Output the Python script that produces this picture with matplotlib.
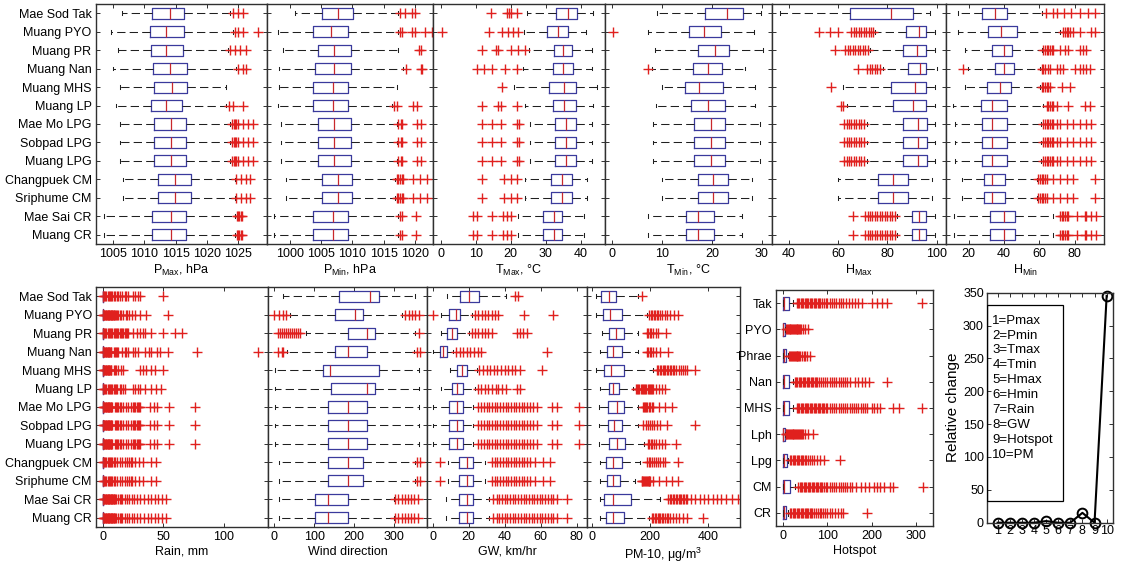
import matplotlib
matplotlib.use("Agg")
import matplotlib.pyplot as plt
from matplotlib.patches import Rectangle
import numpy as np

plt.rcParams['font.family'] = ['Liberation Sans', 'DejaVu Sans']
plt.rcParams['mathtext.fontset'] = 'custom'
plt.rcParams['mathtext.rm'] = 'Liberation Sans'
plt.rcParams['mathtext.it'] = 'Liberation Sans:italic'
plt.rcParams['mathtext.bf'] = 'Liberation Sans:bold'

# ---------------- data ----------------
stations = ['Mae Sod Tak', 'Muang PYO', 'Muang PR', 'Muang Nan', 'Muang MHS', 'Muang LP',
            'Mae Mo LPG', 'Sobpad LPG', 'Muang LPG', 'Changpuek CM', 'Sriphume CM',
            'Mae Sai CR', 'Muang CR']
provinces = ['Tak', 'PYO', 'Phrae', 'Nan', 'MHS', 'Lph', 'Lpg', 'CM', 'CR']

# P_Max (hPa): whisker low, q1, median, q3, whisker high, outliers
pmax_lo = [1006.4, 1004.7, 1005.8, 1005.0, 1006.1, 1005.4, 1006.1, 1006.1, 1006.1, 1006.5, 1006.5, 1003.6, 1003.6]
pmax_q1 = [1011.2, 1010.9, 1011.0, 1011.4, 1011.5, 1011.0, 1011.5, 1011.5, 1011.5, 1012.1, 1012.1, 1011.2, 1011.2]
pmax_med = [1014.1, 1013.4, 1013.5, 1014.1, 1014.4, 1013.5, 1014.2, 1014.2, 1014.2, 1014.9, 1014.9, 1014.2, 1014.2]
pmax_q3 = [1016.4, 1016.4, 1016.2, 1016.8, 1016.8, 1016.0, 1016.6, 1016.6, 1016.6, 1017.4, 1017.4, 1016.6, 1016.6]
pmax_hi = [1023.7, 1024.2, 1023.4, 1024.7, 1023.1, 1023.1, 1023.7, 1023.7, 1023.7, 1024.5, 1024.5, 1024.5, 1024.5]
pmax_out = [[1024.2, 1025.0, 1025.8], [1024.5, 1025.0, 1025.8, 1028.2], [1023.7, 1024.5, 1025.3, 1026.3],
            [1025.0, 1025.8, 1026.3], [], [1023.6, 1024.2, 1025.8],
            [1024.0, 1024.3, 1024.5, 1024.7, 1025.0, 1025.8, 1026.6, 1027.4],
            [1024.0, 1024.3, 1024.5, 1024.7, 1025.0, 1025.8, 1026.6, 1027.4],
            [1024.0, 1024.3, 1024.5, 1024.7, 1025.0, 1025.8, 1026.6, 1027.4],
            [1024.7, 1025.5, 1026.3, 1026.9], [1024.7, 1025.5, 1026.3, 1026.9],
            [1024.8, 1025.0, 1025.2, 1025.4, 1025.6], [1024.8, 1025.0, 1025.2, 1025.4, 1025.6]]

# P_Min (hPa)
pmin_lo = [1000.8, 998.1, 998.8, 998.3, 998.3, 998.0, 998.5, 998.5, 998.5, 999.4, 999.4, 997.5, 997.5]
pmin_q1 = [1005.1, 1003.6, 1004.4, 1004.0, 1003.7, 1003.6, 1004.5, 1004.5, 1004.5, 1005.1, 1005.1, 1003.6, 1003.6]
pmin_med = [1007.6, 1006.5, 1007.1, 1007.0, 1006.8, 1006.8, 1007.1, 1007.1, 1007.1, 1007.6, 1007.6, 1006.8, 1006.8]
pmin_q3 = [1010.1, 1009.3, 1009.8, 1009.8, 1009.2, 1009.2, 1009.8, 1009.8, 1009.8, 1010.0, 1010.0, 1009.3, 1009.3]
pmin_hi = [1017.3, 1017.3, 1017.3, 1018.1, 1017.2, 1016.3, 1017.1, 1017.1, 1017.1, 1016.8, 1016.8, 1017.3, 1017.3]
pmin_out = [[1017.6, 1018.4, 1019.5, 1020.0], [1017.6, 1017.9, 1019.5, 1020.0, 1021.6, 1022.8], [1020.7, 1020.9],
            [1018.6, 1021.0, 1021.2], [], [1016.7, 1017.1, 1019.7, 1020.3],
            [1017.3, 1017.8, 1018.0, 1020.3, 1020.9], [1017.3, 1017.8, 1018.0, 1020.3, 1020.9],
            [1017.3, 1017.8, 1018.0, 1020.3, 1020.9],
            [1017.1, 1017.3, 1017.6, 1017.9, 1018.1, 1019.7, 1020.8, 1021.9],
            [1017.1, 1017.3, 1017.6, 1017.9, 1018.1, 1019.7, 1020.8, 1021.9],
            [1017.6, 1017.9, 1020.2], [1017.6, 1017.9, 1020.2]]

# T_Max (degC)
tmax_lo = [24.5, 23.9, 25.2, 23.6, 21.0, 24.2, 25.5, 25.5, 25.5, 24.2, 24.2, 22.0, 22.0]
tmax_q1 = [32.9, 30.5, 32.5, 32.2, 30.9, 32.2, 32.6, 32.6, 32.6, 31.6, 31.6, 29.3, 29.3]
tmax_med = [36.3, 33.5, 35.0, 35.0, 35.3, 35.3, 35.8, 35.8, 35.8, 34.6, 34.6, 32.4, 32.4]
tmax_q3 = [38.9, 36.4, 37.4, 37.9, 38.6, 38.6, 38.6, 38.6, 38.6, 37.4, 37.4, 34.7, 34.7]
tmax_hi = [43.6, 41.5, 43.3, 43.3, 44.6, 43.6, 43.4, 43.4, 43.4, 41.7, 41.7, 41.0, 41.0]
tmax_out = [[14.2, 18.8, 19.5, 20.2, 21.7], [0.2, 13.8, 17.4, 19.3, 20.5, 22.1], [11.8, 15.9, 16.4, 20.0, 22.0, 24.1],
            [10.2, 12.4, 14.7, 18.3, 21.7], [17.4], [11.8, 16.4, 17.2, 21.9],
            [11.8, 14.7, 17.1, 21.9, 22.4], [11.8, 14.7, 17.1, 21.9, 22.4], [11.8, 14.7, 17.1, 21.9, 22.4],
            [11.8, 18.0, 20.0, 21.9], [11.8, 18.0, 20.0, 21.9],
            [9.1, 10.2, 14.7, 17.9, 19.0, 20.0], [9.1, 10.2, 14.7, 17.9, 19.0, 20.0]]

# T_Min (degC)
tmin_lo = [9.1, 7.3, 8.7, 8.0, 10.1, 8.9, 8.3, 8.3, 8.3, 10.1, 10.1, 7.3, 7.3]
tmin_q1 = [18.7, 15.5, 17.3, 16.2, 14.7, 15.8, 16.5, 16.5, 16.5, 17.2, 17.2, 14.8, 14.8]
tmin_med = [23.0, 18.5, 20.7, 19.2, 17.5, 19.2, 19.9, 19.9, 19.9, 20.2, 20.2, 17.2, 17.2]
tmin_q3 = [26.2, 21.8, 23.5, 22.0, 22.2, 22.7, 22.7, 22.7, 22.7, 23.3, 23.3, 20.5, 20.5]
tmin_hi = [29.9, 28.5, 30.3, 26.7, 28.7, 28.7, 29.7, 29.7, 29.7, 28.1, 28.1, 26.0, 26.0]
tmin_out = [[], [0.2], [], [7.3], [], [], [], [], [], [], [], [], []]

# H_Max (%)
hmax_lo = [36.4, 75.0, 73.0, 78.4, 62.2, 63.6, 71.7, 71.7, 71.7, 60.2, 60.2, 83.8, 83.8]
hmax_q1 = [64.9, 87.5, 86.5, 88.5, 81.5, 82.2, 86.5, 86.5, 86.5, 76.4, 76.4, 90.2, 90.2]
hmax_med = [81.5, 93.0, 92.2, 93.3, 91.2, 90.3, 92.3, 92.3, 92.3, 82.2, 82.2, 92.9, 92.9]
hmax_q3 = [90.3, 95.5, 95.5, 95.5, 95.5, 95.5, 96.2, 96.2, 96.2, 88.5, 88.5, 95.5, 95.5]
hmax_hi = [97.3, 99.3, 99.3, 100.0, 99.3, 99.3, 99.3, 99.3, 99.3, 98.0, 98.0, 99.3, 99.3]
hmax_out = [[], [52.4, 56.9, 60.2, 65.2, 66.5, 67.5, 68.5, 69.5, 70.5, 71.5, 72.5, 73.5, 74.4],
            [58.9, 62.9, 64.0, 65.0, 66.0, 67.0, 68.0, 69.0, 70.0, 71.0, 72.0],
            [68.3, 71.7, 73.0, 74.0, 75.0, 76.0, 77.0], [57.3], [61.3, 62.2],
            [62.5, 63.5, 64.5, 65.5, 66.5, 67.5, 68.5, 69.5, 70.6],
            [62.5, 63.5, 64.5, 65.5, 66.5, 67.5, 68.5, 69.5, 70.6],
            [62.5, 63.5, 64.5, 65.5, 66.5, 67.5, 68.5, 69.5, 70.6],
            [], [],
            [66.0, 71.0, 72.0, 73.0, 74.0, 75.0, 76.0, 77.0, 78.0, 79.0, 80.0, 81.0, 82.0, 83.0],
            [66.0, 71.0, 72.0, 73.0, 74.0, 75.0, 76.0, 77.0, 78.0, 79.0, 80.0, 81.0, 82.0, 83.0]]

# H_Min (%)
hmin_lo = [13.7, 14.0, 17.8, 19.3, 17.8, 10.9, 12.1, 12.1, 12.1, 15.9, 15.9, 11.8, 11.8]
hmin_q1 = [27.3, 30.8, 33.3, 34.6, 30.1, 26.7, 27.7, 27.7, 27.7, 28.6, 28.6, 32.0, 32.0]
hmin_med = [34.8, 38.5, 39.8, 39.8, 37.4, 33.3, 33.3, 33.3, 33.3, 33.3, 33.3, 39.8, 39.8]
hmin_q3 = [41.7, 47.3, 44.5, 45.8, 43.6, 41.7, 41.7, 41.7, 41.7, 40.4, 40.4, 46.4, 46.4]
hmin_hi = [61.3, 71.6, 61.3, 60.4, 60.4, 62.2, 60.9, 60.9, 60.9, 58.5, 58.5, 67.5, 67.5]
hmin_out = [[63.7, 67.8, 69.7, 73.8, 78.1, 82.8, 87.5, 91.2],
            [73.4, 74.4, 75.3, 76.3, 77.2, 79.1, 82.8, 89.4, 91.2],
            [62.2, 63.2, 64.1, 65.0, 66.0, 66.9, 67.8, 71.6, 74.4, 76.3, 82.8, 84.7, 86.5],
            [16.5, 61.3, 62.2, 63.2, 65.0, 66.0, 69.7, 71.6, 73.4, 80.0, 82.8, 84.7, 86.5, 88.4],
            [61.3, 62.2, 63.2, 64.1, 65.0, 66.0, 72.5, 77.2],
            [64.1, 65.0, 66.0, 66.9, 67.8, 69.7, 76.3, 85.6, 88.4],
            [62.2, 63.2, 64.1, 65.0, 66.0, 66.9, 67.8, 69.7, 71.6, 75.3, 79.1, 82.8, 86.5, 89.4],
            [62.2, 63.2, 64.1, 65.0, 66.0, 66.9, 67.8, 69.7, 71.6, 75.3, 79.1, 82.8, 86.5, 89.4],
            [62.2, 63.2, 64.1, 65.0, 66.0, 66.9, 67.8, 69.7, 71.6, 75.3, 79.1, 82.8, 86.5, 89.4],
            [59.4, 60.4, 61.3, 62.2, 63.2, 64.1, 67.8, 71.6, 75.3, 79.1, 91.2],
            [59.4, 60.4, 61.3, 62.2, 63.2, 64.1, 67.8, 71.6, 75.3, 79.1, 91.2],
            [71.6, 72.5, 73.4, 74.4, 75.3, 76.3, 81.0, 85.6, 86.5, 89.4, 92.2],
            [71.6, 72.5, 73.4, 74.4, 75.3, 76.3, 81.0, 85.6, 86.5, 89.4, 92.2]]

# Rain (mm): boxes collapse at zero, everything else is an outlier
rain_lo = [0] * 13
rain_q1 = [0] * 13
rain_med = [0] * 13
rain_q3 = [0] * 13
rain_hi = [0] * 13
rain_out = [
    [0.5, 1, 2, 3, 4, 5, 6, 7, 8, 9, 10, 12, 13, 14, 16, 18, 19, 21, 25, 27, 29, 31, 50],
    [0.5, 1, 1.5, 2, 2.5, 3, 3.5, 4, 4.5, 5, 5.5, 6, 6.5, 7, 7.5, 8, 8.5, 9, 9.5, 10, 11, 12, 13, 14, 15, 17,
     19, 20, 22, 24, 27, 31, 36, 54],
    [0.5, 1, 2, 3, 4, 5, 6, 7, 8, 9, 10, 11, 12, 13, 14, 15, 16, 17, 18, 19, 20, 21, 25, 28, 31, 33, 35, 40,
     50, 60, 65],
    [0.5, 1, 1.5, 2, 2.5, 3, 3.5, 4, 4.5, 5, 5.5, 6, 6.5, 7, 9, 10, 11, 12, 13, 16, 18, 19, 21, 25, 27, 29,
     35, 38, 40, 45, 47, 54, 77.5, 128],
    [0.5, 1, 1.5, 2, 2.5, 3, 3.5, 4, 4.5, 5, 5.5, 6, 6.5, 7, 9, 10, 11, 13, 15, 17, 31, 33, 36, 40, 43, 50],
    [0.5, 1, 2, 3, 4, 5, 6, 7, 8, 9, 10, 11, 12, 14, 15, 17, 18, 25, 27, 29, 31, 35, 40, 44, 48],
    [0.5, 1, 1.5, 2, 2.5, 3, 3.5, 4, 4.5, 5, 5.5, 6, 6.5, 7, 7.5, 10, 11, 12, 13, 14, 15, 17, 19, 21, 23, 25,
     26, 27, 28, 29, 30, 31, 39, 42, 45, 55, 76],
    [0.5, 1, 1.5, 2, 2.5, 3, 3.5, 4, 4.5, 5, 5.5, 6, 6.5, 7, 7.5, 10, 11, 12, 13, 14, 15, 17, 19, 21, 23, 25,
     26, 27, 28, 29, 30, 31, 39, 42, 45, 55, 76],
    [0.5, 1, 1.5, 2, 2.5, 3, 3.5, 4, 4.5, 5, 5.5, 6, 6.5, 7, 7.5, 10, 11, 12, 13, 14, 15, 17, 19, 21, 23, 25,
     26, 27, 28, 29, 30, 31, 39, 42, 45, 55, 76],
    [0.5, 1, 2, 3, 4, 5, 6, 7, 8, 9, 10, 12, 14, 16, 18, 20, 22, 23, 24, 27, 30, 33, 40, 44],
    [0.5, 1, 2, 3, 4, 5, 6, 7, 8, 9, 10, 12, 14, 16, 18, 20, 22, 23, 24, 27, 30, 33, 40, 44],
    [0.5, 1, 1.5, 2, 2.5, 3, 3.5, 4, 4.5, 5, 5.5, 6, 6.5, 7, 7.5, 8, 8.5, 9, 9.5, 10, 11, 13, 14, 15, 16, 18,
     20, 22, 24, 26, 28, 31, 34, 37, 40, 43, 46, 49, 52],
    [0.5, 1, 1.5, 2, 2.5, 3, 3.5, 4, 4.5, 5, 5.5, 6, 6.5, 7, 7.5, 8, 8.5, 9, 9.5, 10, 11, 13, 14, 15, 16, 18,
     20, 22, 24, 26, 28, 31, 34, 37, 40, 43, 46, 49, 52]]

# Wind direction (deg)
wind_lo = [21.7, 40.0, 80.0, 32.0, 2.5, 2.5, 2.5, 2.5, 2.5, 13.0, 13.0, 13.0, 13.0]
wind_q1 = [161, 152.5, 184, 152.5, 123, 142.5, 134, 134, 134, 134, 134, 101, 101]
wind_med = [240, 202.5, 232, 184, 140, 232, 184, 184, 184, 184, 184, 134, 134]
wind_q3 = [263, 221.7, 251, 232, 263, 252.5, 232, 232, 232, 221.7, 221.7, 184, 184]
wind_hi = [352.5, 319, 352.5, 348, 361, 361, 361, 361, 361, 351, 351, 298, 298]
wind_out = [[], [1, 13, 22, 30, 327.5, 336, 344, 352.5, 361],
            [11, 16, 21, 26, 31, 36, 41, 46, 50, 55, 60, 65, 361],
            [11, 19, 23, 357, 363], [], [], [], [], [],
            [357, 363], [357, 363],
            [302, 310, 318, 326, 334, 342, 350, 358], [302, 310, 318, 326, 334, 342, 350, 358]]

# GW (km/hr)
gw_lo = [7.8, 4.4, 4.4, 0.4, 9.6, 4.4, 0.0, 0.0, 0.0, 8.7, 8.7, 7.4, 7.4]
gw_q1 = [15.2, 9.3, 7.8, 4.1, 13.7, 10.9, 9.3, 9.3, 9.3, 14.8, 14.8, 14.8, 14.8]
gw_med = [20.4, 13.0, 10.6, 5.6, 16.1, 13.3, 13.3, 13.3, 13.3, 18.9, 18.9, 18.9, 18.9]
gw_q3 = [25.9, 15.2, 13.3, 7.8, 18.9, 16.7, 16.7, 16.7, 16.7, 22.2, 22.2, 22.2, 22.2]
gw_hi = [40.7, 21.7, 20.4, 11.5, 24.4, 23.5, 22.6, 22.6, 22.6, 29.0, 29.0, 31.5, 31.5]
gw_out = [[45.7, 47.6],
          [0.4, 23.5, 25.4, 27.2, 29.1, 31.0, 32.8, 34.6, 36.5, 51.0, 67.0],
          [21.7, 23.5, 25.4, 27.2, 29.1, 31.0, 32.8, 46.7, 48.5, 50.4, 52.2],
          [13, 15, 17, 19, 21, 23, 25, 27, 63.3],
          [26, 28, 30, 32, 34, 36, 38, 40, 42, 44, 46, 48.5, 60.6],
          [25, 27, 29, 31, 33, 35, 36.5, 38.5, 40.7, 46.7, 48.5],
          [25.4, 27, 28.5, 30, 31.5, 33, 34.5, 36, 37.5, 39, 40.5, 42, 43.5, 45, 46.5, 48, 49.5, 51, 52.5, 54,
           55.5, 57.8, 66, 68.9, 81.5],
          [25.4, 27, 28.5, 30, 31.5, 33, 34.5, 36, 37.5, 39, 40.5, 42, 43.5, 45, 46.5, 48, 49.5, 51, 52.5, 54,
           55.5, 57.8, 66, 68.9, 81.5],
          [25.4, 27, 28.5, 30, 31.5, 33, 34.5, 36, 37.5, 39, 40.5, 42, 43.5, 45, 46.5, 48, 49.5, 51, 52.5, 54,
           55.5, 57.8, 66, 68.9, 81.5],
          [4.1, 32.8, 34.5, 36, 37.5, 39, 40.5, 42, 43.5, 45, 46.5, 48, 49.5, 51, 52.5, 54, 56.9, 61.5, 65.2],
          [4.1, 32.8, 34.5, 36, 37.5, 39, 40.5, 42, 43.5, 45, 46.5, 48, 49.5, 51, 52.5, 54, 56.9, 61.5, 65.2],
          [33.7, 35.5, 37, 38.5, 40, 41.5, 43, 44.5, 46, 47.5, 49, 50.5, 52, 53.5, 55, 56.5, 58, 59.5, 61, 62.5,
           64, 65.5, 67, 68.9, 74.4],
          [33.7, 35.5, 37, 38.5, 40, 41.5, 43, 44.5, 46, 47.5, 49, 50.5, 52, 53.5, 55, 56.5, 58, 59.5, 61, 62.5,
           64, 65.5, 67, 68.9, 74.4]]

# PM-10 (ug/m3)
pm_lo = [14, 14, 34, 28.6, 14, 28.6, 26, 26, 26, 28.6, 28.6, 28.6, 28.6]
pm_q1 = [32, 40, 60.6, 51, 43, 59, 57, 57, 60.6, 48, 51, 43, 48]
pm_med = [60.6, 63, 83, 72, 66, 72, 86, 78, 86, 72, 72, 72, 72]
pm_q3 = [83, 103, 111, 103, 111, 94, 111, 103, 114, 103, 97, 134, 111]
pm_hi = [160, 189, 160, 160, 211, 143, 160, 160, 180, 166, 149, 234, 195]
pm_out = [[171],
          [198, 203, 208, 213, 218, 223, 228, 233, 240, 250, 260, 270, 283, 297],
          [189, 194, 199, 204, 210, 220, 229, 255],
          [189, 194, 199, 205, 212, 220, 234, 263],
          [223, 228, 233, 238, 243, 248, 253, 258, 263, 268, 273, 278, 283, 290, 298, 305, 312, 320, 326, 354],
          [152, 156, 160, 164, 168, 172, 176, 180, 184, 188, 192, 196, 200, 204, 208, 212, 220, 230, 240, 251],
          [175, 179, 183, 187, 191, 195, 200, 206, 211, 230, 251, 274],
          [177, 185, 192, 200, 208, 215, 223, 234, 257, 354],
          [194, 198, 202, 208, 215, 222, 230, 240, 251, 289],
          [189, 195, 201, 208, 215, 222, 229, 236, 243, 251, 297],
          [171, 174, 177, 180, 183, 186, 189, 192, 195, 198, 200, 211, 230, 255, 275, 297],
          [263, 268, 273, 278, 283, 288, 293, 298, 303, 308, 313, 318, 323, 328, 340, 355, 370, 385, 400, 415,
           430, 445, 460, 480, 503],
          [206, 211, 216, 221, 226, 231, 236, 241, 246, 251, 257, 263, 270, 280, 290, 300, 313, 326, 383]]

# Hotspot counts by province
hot_lo = [0, 0, 0, 0, 0, 0, 0, 0, 0]
hot_q1 = [0, 0, 0, 0, 0, 0, 0, 0, 0]
hot_med = [1, 0, 1, 1, 1, 0, 1, 1, 1]
hot_q3 = [13.6, 3.8, 6.0, 13.6, 13.6, 3.0, 7.6, 15.0, 5.3]
hot_hi = [21, 4, 10, 21, 21, 4, 11, 26, 11]
hot_out = [
    [30, 33, 36, 39, 42, 45, 48, 51, 54, 57, 60, 63, 66, 69, 72, 75, 78, 81, 84, 88, 92, 96, 100, 105, 110, 115,
     120, 125, 130, 136, 142, 148, 155, 163, 170, 178, 200, 212, 223, 234, 314],
    [6, 8, 10, 12, 14, 16, 18, 20, 22, 24, 26, 28, 30, 32, 34, 36, 38, 41, 44, 49, 57],
    [13.6, 16, 18, 20, 22, 24, 26, 28, 30, 32, 34, 36, 38, 42, 46, 50, 53, 60.5],
    [26, 29, 32, 35, 38, 41, 44, 47, 50, 53, 56, 59, 62, 65, 68, 71, 74, 77, 80, 85, 90, 95, 100, 105, 110, 115,
     120, 125, 130, 135, 140, 145, 151, 163, 170, 178, 185, 193, 234],
    [30, 33, 36, 39, 42, 45, 48, 51, 54, 57, 60, 63, 66, 69, 72, 75, 78, 81, 84, 87, 90, 93, 96, 100, 105, 110,
     115, 120, 125, 130, 135, 140, 145, 150, 155, 160, 165, 170, 175, 180, 185, 190, 200, 206, 212, 219, 249,
     261, 314],
    [5, 7, 9, 11, 13, 15, 17, 19, 21, 23, 25, 27, 29, 31, 33, 35, 37, 39, 42, 45, 49, 57, 68],
    [15, 18, 21, 24, 27, 30, 33, 36, 39, 42, 45, 48, 51, 55, 60, 65, 70, 76, 83, 91, 128],
    [34, 37, 40, 43, 46, 49, 52, 55, 58, 61, 64, 67, 70, 73, 76, 79, 82, 85, 88, 92, 96, 100, 105, 110, 115, 120,
     125, 130, 135, 140, 145, 150, 156, 165, 175, 185, 195, 205, 212, 219, 227, 242, 249, 316],
    [15, 18, 21, 24, 27, 30, 33, 36, 39, 42, 45, 48, 51, 54, 57, 60, 63, 66, 70, 74, 78, 82, 86, 90, 95, 100,
     105, 110, 117, 124, 131, 136, 189]]

# Relative change
rc_x = [1, 2, 3, 4, 5, 6, 7, 8, 9, 10]
rc_y = [0, 0, 0, 0, 2.5, 0, 0, 15, 0, 345]
rc_names = ['1=Pmax', '2=Pmin', '3=Tmax', '4=Tmin', '5=Hmax', '6=Hmin', '7=Rain', '8=GW', '9=Hotspot', '10=PM']

# ---------------- drawing ----------------
W, H = 1123, 566
fig = plt.figure(figsize=(W / 100, H / 100), dpi=100)

BOX_C = '#3a3a9c'
MED_C = '#c8282c'
OUT_C = '#e0201e'
SPINE_C = '#303030'


def rect(x0, x1, y0, y1):
    return [x0 / W, 1 - y1 / H, (x1 - x0) / W, (y1 - y0) / H]


def style(ax):
    for s in ax.spines.values():
        s.set_color(SPINE_C)
        s.set_linewidth(1.0)
    ax.tick_params(direction='in', top=True, right=True, length=3, width=0.7,
                   labelsize=9, pad=3, colors='black')
    ax.tick_params(axis='both', which='both', color=SPINE_C)


def boxpanel(ax, lo, q1, med, q3, hi, out, names, show_names, xlim, xticks, xlabel, width=0.6):
    n = len(lo)
    pos = list(range(n, 0, -1))
    stats = [dict(whislo=lo[i], q1=q1[i], med=med[i], q3=q3[i], whishi=hi[i], fliers=out[i])
             for i in range(n)]
    ax.bxp(stats, positions=pos, widths=width, capwidths=0.2, orientation='horizontal',
           manage_ticks=False, showfliers=True,
           boxprops=dict(color=BOX_C, linewidth=0.9),
           whiskerprops=dict(color='#202020', linewidth=0.75, linestyle=(0, (8, 4))),
           capprops=dict(color='#202020', linewidth=0.75),
           medianprops=dict(color=MED_C, linewidth=0.9),
           flierprops=dict(marker='+', markeredgecolor=OUT_C, markerfacecolor='none',
                           markersize=6.5, markeredgewidth=1.0, linestyle='none'))
    ax.set_ylim(0.5, n + 0.5)
    ax.set_xlim(*xlim)
    ax.set_yticks(pos)
    if show_names:
        ax.set_yticklabels(names)
    else:
        ax.set_yticklabels([])
    ax.set_xticks(xticks)
    ax.set_xlabel(xlabel, fontsize=9, labelpad=2)
    style(ax)


# Top row
top_x = [95.7, 267, 433, 605, 772, 946, 1104]
top_specs = [
    (pmax_lo, pmax_q1, pmax_med, pmax_q3, pmax_hi, pmax_out, (1002.2, 1029.6), [1005, 1010, 1015, 1020, 1025],
     r'P$_{\rm Max}$, hPa'),
    (pmin_lo, pmin_q1, pmin_med, pmin_q3, pmin_hi, pmin_out, (996.3, 1022.9), [1000, 1005, 1010, 1015, 1020],
     r'P$_{\rm Min}$, hPa'),
    (tmax_lo, tmax_q1, tmax_med, tmax_q3, tmax_hi, tmax_out, (-2.3, 47.0), [0, 10, 20, 30, 40],
     r'T$_{\rm Max}$, °C'),
    (tmin_lo, tmin_q1, tmin_med, tmin_q3, tmin_hi, tmin_out, (-1.3, 32.0), [0, 10, 20, 30],
     r'T$_{\rm Min}$, °C'),
    (hmax_lo, hmax_q1, hmax_med, hmax_q3, hmax_hi, hmax_out, (33.3, 103.8), [40, 60, 80, 100],
     r'H$_{\rm Max}$'),
    (hmin_lo, hmin_q1, hmin_med, hmin_q3, hmin_hi, hmin_out, (7.1, 96.5), [20, 40, 60, 80],
     r'H$_{\rm Min}$'),
]
for i, sp in enumerate(top_specs):
    ax = fig.add_axes(rect(top_x[i], top_x[i + 1], 4, 244))
    boxpanel(ax, *sp[:6], stations, i == 0, sp[6], sp[7], sp[8])

# Bottom row
bot_x = [96, 268, 427, 587, 740]
bot_specs = [
    (rain_lo, rain_q1, rain_med, rain_q3, rain_hi, rain_out, (-5.5, 136.3), [0, 50, 100], 'Rain, mm'),
    (wind_lo, wind_q1, wind_med, wind_q3, wind_hi, wind_out, (-15, 381.5), [0, 100, 200, 300],
     'Wind direction'),
    (gw_lo, gw_q1, gw_med, gw_q3, gw_hi, gw_out, (-3.1, 85.7), [0, 20, 40, 60, 80], 'GW, km/hr'),
    (pm_lo, pm_q1, pm_med, pm_q3, pm_hi, pm_out, (-16, 508.6), [0, 200, 400], r'PM-10, μg/m$^3$'),
]
for i, sp in enumerate(bot_specs):
    ax = fig.add_axes(rect(bot_x[i], bot_x[i + 1], 287, 527))
    boxpanel(ax, *sp[:6], stations, i == 0, sp[6], sp[7], sp[8])

# Hotspot panel
axh = fig.add_axes(rect(776, 933, 290, 526))
boxpanel(axh, hot_lo, hot_q1, hot_med, hot_q3, hot_hi, hot_out, provinces, True,
         (-16.6, 339), [0, 100, 200, 300], 'Hotspot', width=0.5)

# Relative change panel
axr = fig.add_axes(rect(986.7, 1112.7, 292.7, 522.7))
axr.plot(rc_x, rc_y, color='black', linewidth=1.5, marker='o', markersize=7,
         markerfacecolor='none', markeredgecolor='black', markeredgewidth=1.4, clip_on=False)
axr.set_xlim(0.1, 10.5)
axr.set_ylim(0, 350)
axr.set_xticks(rc_x)
axr.set_yticks([0, 50, 100, 150, 200, 250, 300, 350])
axr.set_ylabel('Relative change', fontsize=11, labelpad=2)
style(axr)
axr.tick_params(labelsize=9, pad=2)
axr.add_patch(Rectangle((0, 0.096), 0.608, 0.851, transform=axr.transAxes, fill=False,
                        edgecolor='black', linewidth=0.9, zorder=3))
axr.text(0.045, 0.905, '\n'.join(rc_names), transform=axr.transAxes, ha='left', va='top',
         fontsize=9.5, linespacing=1.33, zorder=4)

fig.savefig('out.png', dpi=100)
